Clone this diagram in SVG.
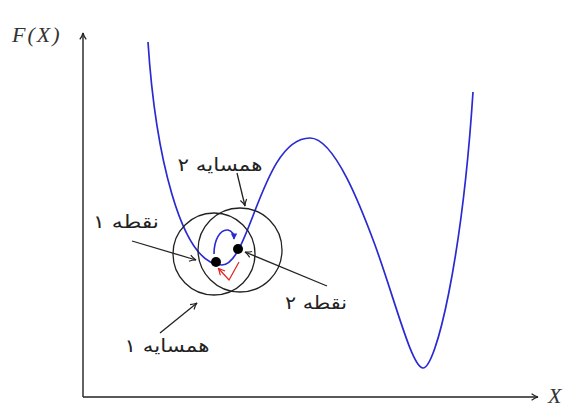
<svg xmlns="http://www.w3.org/2000/svg" width="566" height="407" viewBox="0 0 566 407">
<style>
.ax{stroke:#222;stroke-width:1.4;fill:none}
.ptr{stroke:#222;stroke-width:1.3;fill:none}
.curve{stroke:#2a2ad2;stroke-width:1.7;fill:none}
.circ{stroke:#222;stroke-width:1.3;fill:none}
.lbl{font-family:"DejaVu Sans",sans-serif;font-size:18px;fill:#222;text-anchor:middle}
.math{font-family:"Liberation Serif",serif;font-style:italic;font-size:22px;fill:#333}
</style>
<defs>
<marker id="ah" viewBox="0 0 10 10" refX="9" refY="5" markerWidth="8" markerHeight="8" markerUnits="userSpaceOnUse" orient="auto">
<path d="M1,1 Q5,4 9,5 Q5,6 1,9" fill="none" stroke="#222" stroke-width="1.5"/>
</marker>
<marker id="ahb" viewBox="0 0 10 10" refX="8" refY="5" markerWidth="8" markerHeight="8" markerUnits="userSpaceOnUse" orient="auto">
<path d="M1,1 L9,5 L1,9 Z" fill="#2a2ad2"/>
</marker>
<marker id="ahr" viewBox="0 0 10 10" refX="8" refY="5" markerWidth="8" markerHeight="8" markerUnits="userSpaceOnUse" orient="auto">
<path d="M1,1 L9,5 L1,9" fill="none" stroke="#e02020" stroke-width="1.5"/>
</marker>
</defs>
<g id="axes">
<line class="ax" x1="83" y1="397" x2="83" y2="33" marker-end="url(#ah)"/>
<line class="ax" x1="83" y1="397" x2="538" y2="397" marker-end="url(#ah)"/>
<text class="math" x="12" y="42" letter-spacing="2">F(X)</text>
<text class="math" x="548" y="403" font-size="20">X</text>
</g>
<g id="function-curve">
<path class="curve" d="M148,42 C155,150 180,265 222,265 C250,265 262,138 310,138 C335,138 362,210 375,245 C395,300 412,368 423,368 C436,368 462,260 473,92"/>
</g>
<g id="neighborhood-1">
<circle class="circ" cx="214" cy="254" r="41"/>
</g>
<g id="neighborhood-2">
<circle class="circ" cx="240" cy="250" r="42"/>
</g>
<g id="point-1">
<circle cx="216" cy="262" r="5" fill="#000"/>
</g>
<g id="point-2">
<circle cx="238" cy="249" r="5" fill="#000"/>
</g>
<g id="moves">
<path d="M214,254 C214,240 220,229 228,230 C232,231 234,234 234,239" stroke="#2a2ad2" stroke-width="1.6" fill="none" marker-end="url(#ahb)"/>
<path d="M239,262 L229,280 L219,269" stroke="#e02020" stroke-width="1.2" fill="none" marker-end="url(#ahr)"/>
</g>
<g id="connectors">
<line class="ptr" x1="132" y1="241" x2="196" y2="260" marker-end="url(#ah)"/>
<line class="ptr" x1="327" y1="286" x2="245" y2="252" marker-end="url(#ah)"/>
<line class="ptr" x1="237" y1="173" x2="245" y2="206" marker-end="url(#ah)"/>
<line class="ptr" x1="160" y1="333" x2="197" y2="303" marker-end="url(#ah)"/>
</g>
<g id="label-point-1"><text class="lbl" x="126" y="228" direction="rtl" textLength="66" lengthAdjust="spacingAndGlyphs">نقطه ۱</text></g>
<g id="label-point-2"><text class="lbl" x="316" y="309" direction="rtl" textLength="62" lengthAdjust="spacingAndGlyphs">نقطه ۲</text></g>
<g id="label-neigh-2"><text class="lbl" x="220" y="171" direction="rtl" textLength="85" lengthAdjust="spacingAndGlyphs">همسایه ۲</text></g>
<g id="label-neigh-1"><text class="lbl" x="167" y="352" direction="rtl" textLength="85" lengthAdjust="spacingAndGlyphs">همسایه ۱</text></g>
</svg>
